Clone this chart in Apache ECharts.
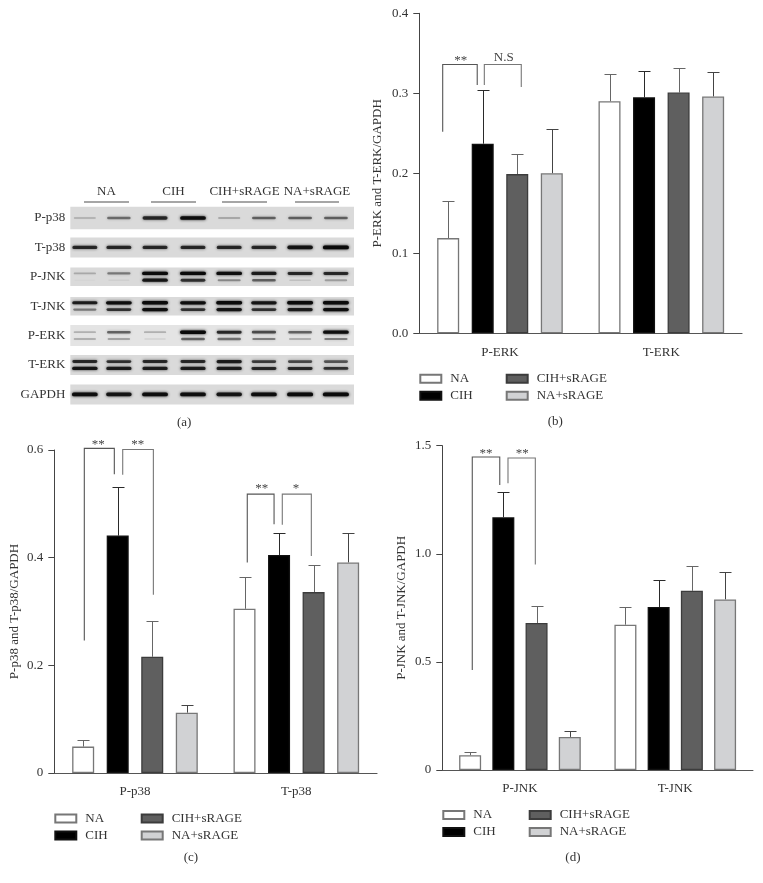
<!DOCTYPE html>
<html><head><meta charset="utf-8"><style>html,body{margin:0;padding:0;background:#fff}#c{width:763px;height:883px}</style>
<script src="https://cdn.jsdelivr.net/npm/echarts@6/dist/echarts.min.js"></script></head>
<body><div id="c"></div><script>
const conditions = ["NA", "CIH", "CIH+sRAGE", "NA+sRAGE"];

// Panel (a) western blot
const blotRows = ["P-p38", "T-p38", "P-JNK", "T-JNK", "P-ERK", "T-ERK", "GAPDH"];
const laneCenters = [0.41, 1.37, 2.39, 3.46, 4.48, 5.46, 6.48, 7.49];
const bandUpper = [
  [0.2, 0.5, 0.8, 0.95, 0.25, 0.55, 0.55, 0.55],
  [0.8, 0.8, 0.8, 0.8, 0.8, 0.8, 0.9, 1],
  [0.25, 0.45, 1, 1, 0.95, 0.85, 0.8, 0.8],
  [0.85, 0.95, 1, 0.95, 1, 0.9, 1, 1],
  [0.25, 0.55, 0.25, 1, 0.8, 0.65, 0.55, 0.95],
  [0.8, 0.75, 0.8, 0.8, 0.85, 0.7, 0.65, 0.6],
  [0.95, 0.9, 0.95, 0.95, 0.9, 0.95, 1, 1]
];
const bandLower = [
  null, null,
  [0.03, 0.06, 0.9, 0.75, 0.4, 0.55, 0.15, 0.3],
  [0.45, 0.75, 0.95, 0.75, 0.9, 0.75, 0.85, 0.95],
  [0.25, 0.3, 0.1, 0.55, 0.5, 0.45, 0.25, 0.45],
  [0.9, 0.85, 0.85, 0.85, 0.85, 0.8, 0.8, 0.75],
  null
];
const laneGroups = ["NA", "CIH", "CIH+sRAGE", "NA+sRAGE"];
const laneGroupSpans = [[0.386, 1.655], [2.276, 3.545], [4.278, 5.547], [6.337, 7.577]];

// Panel (b)
const erkCategories = ["P-ERK", "T-ERK"];
const erkMeans = [[0.119, 0.290], [0.237, 0.295], [0.199, 0.301], [0.200, 0.296]];
const erkTops = [[0.165, 0.324], [0.304, 0.3275], [0.224, 0.332], [0.255, 0.327]];
const erkBrackets = [[0.145, 0.359, 0.336, 0.252, 0.3105], [0.403, 0.632, 0.336, 0.3105, 0.308]];
const erkMarks = [["**", 0.257, 0.341], ["N.S", 0.523, 0.345]];
const erkTicks = [0, 0.1, 0.2, 0.3, 0.4];

// Panel (c)
const p38Categories = ["P-p38", "T-p38"];
const p38Means = [[0.049, 0.305], [0.441, 0.405], [0.216, 0.336], [0.112, 0.391]];
const p38Tops = [[0.062, 0.365], [0.531, 0.445], [0.283, 0.387], [0.126, 0.446]];
const p38Brackets = [
  [0.186, 0.372, 0.603, 0.246, 0.555], [0.424, 0.614, 0.601, 0.554, 0.331],
  [1.196, 1.362, 0.518, 0.391, 0.462], [1.413, 1.593, 0.518, 0.461, 0.403]
];
const p38Marks = [["**", 0.273, 0.611], ["**", 0.517, 0.611], ["**", 1.285, 0.528], ["*", 1.498, 0.528]];
const p38Ticks = [0, 0.2, 0.4, 0.6];

// Panel (d)
const jnkCategories = ["P-JNK", "T-JNK"];
const jnkMeans = [[0.068, 0.672], [1.169, 0.754], [0.680, 0.829], [0.153, 0.789]];
const jnkTops = [[0.085, 0.752], [1.287, 0.877], [0.760, 0.942], [0.182, 0.914]];
const jnkBrackets = [[0.193, 0.37, 1.448, 0.462, 1.318], [0.423, 0.599, 1.443, 1.326, 0.951]];
const jnkMarks = [["**", 0.281, 1.465], ["**", 0.515, 1.465]];
const jnkTicks = [0, 0.5, 1.0, 1.5];

const FONT = '"Liberation Serif", serif';
const TEXT = '#333';
const FS = 13;
const fills = ['#ffffff', '#000000', '#5f5f5f', '#d1d2d4'];
const edges = ['#777777', '#111111', '#3c3c3c', '#777777'];
const errColors = ['#666666', '#2a2a2a', '#666666', '#444444'];

const option = {
  animation: false, backgroundColor: '#fff',
  textStyle: {fontFamily: FONT, color: TEXT, fontSize: FS},
  grid: [], xAxis: [], yAxis: [], series: [], legend: [], graphic: []
};

function panel(cfg) {
  const g = option.grid.length;
  option.grid.push({left: cfg.left, top: cfg.top, width: cfg.width, height: cfg.height, containLabel: false});
  const xCat = option.xAxis.length;
  option.xAxis.push({gridIndex: g, type: 'category', data: cfg.categories,
    axisLine: {lineStyle: {color: '#555', width: 1.2}},
    axisTick: {alignWithLabel: true, length: 6, lineStyle: {color: '#444'}},
    axisLabel: {color: TEXT, fontFamily: FONT, fontSize: FS, margin: 12.5}});
  const xHidden = option.xAxis.length;
  option.xAxis.push({gridIndex: g, type: 'value', min: 0, max: 2, show: false});
  const yi = option.yAxis.length;
  const t = cfg.ticks;
  option.yAxis.push({gridIndex: g, type: 'value', min: t[0], max: t[t.length - 1], interval: t[1] - t[0],
    name: cfg.name, nameLocation: 'middle', nameGap: cfg.nameGap,
    nameTextStyle: {color: TEXT, fontFamily: FONT, fontSize: FS},
    splitLine: {show: false},
    axisLine: {show: true, lineStyle: {color: '#444', width: 1}},
    axisTick: {show: true, length: 6, lineStyle: {color: '#444'}},
    axisLabel: {color: TEXT, fontFamily: FONT, fontSize: FS, margin: 11,
      formatter: v => (v === 0 && !cfg.zeroDecimal) ? '0' : v.toFixed(1)}});

  conditions.forEach((name, i) => {
    option.series.push({type: 'bar', name, xAxisIndex: xCat, yAxisIndex: yi, barWidth: cfg.barWidth,
      barGap: cfg.barGap, data: cfg.means[i], z: 3,
      itemStyle: {color: fills[i], borderColor: edges[i], borderWidth: 1.3}});
  });
  const step = cfg.barWidth * (1 + parseFloat(cfg.barGap) / 100);
  conditions.forEach((name, i) => {
    option.series.push({type: 'custom', xAxisIndex: xCat, yAxisIndex: yi, z: 2, silent: true,
      data: cfg.tops[i].map((top, k) => [k, top, cfg.means[i][k]]),
      encode: {x: 0, y: 1},
      renderItem(params, api) {
        const off = (i - 1.5) * step;
        const hi = api.coord([api.value(0), api.value(1)]);
        const lo = api.coord([api.value(0), api.value(2)]);
        const x = Math.round(hi[0] + off) + 0.5, y = Math.round(hi[1]) + 0.5;
        const st = {stroke: errColors[i], lineWidth: 1, fill: null};
        return {type: 'group', children: [
          {type: 'line', shape: {x1: x, y1: y, x2: x, y2: lo[1]}, style: st},
          {type: 'line', shape: {x1: x - 6, y1: y, x2: x + 6, y2: y}, style: st}
        ]};
      }});
  });
  option.series.push({type: 'custom', xAxisIndex: xHidden, yAxisIndex: yi, z: 5, silent: true, clip: false,
    data: cfg.brackets, encode: {x: 0, y: 2},
    renderItem(params, api) {
      const xl = api.value(0), xr = api.value(1), top = api.value(2), a = api.value(3), b = api.value(4);
      return {type: 'polyline', shape: {points: [api.coord([xl, a]), api.coord([xl, top]), api.coord([xr, top]), api.coord([xr, b])]},
        style: {stroke: params.dataIndex % 2 ? '#777' : '#555', lineWidth: 1.1, fill: null}};
    }});
  option.series.push({type: 'custom', xAxisIndex: xHidden, yAxisIndex: yi, z: 5, silent: true, clip: false,
    data: cfg.marks.map(m => [m[1], m[2]]), encode: {x: 0, y: 1},
    renderItem(params, api) {
      const p = api.coord([api.value(0), api.value(1)]);
      return {type: 'text', x: p[0], y: p[1], style: {text: cfg.marks[params.dataIndex][0], fill: '#444',
        font: FS + 'px ' + FONT, align: 'center', verticalAlign: 'middle'}};
    }});

  const leg = c => ({selectedMode: false, orient: 'vertical', left: c.left, top: cfg.legendTop, padding: 0,
    icon: 'rect', itemWidth: 21, itemHeight: 8, itemGap: 4, data: c.names,
    textStyle: {color: TEXT, fontFamily: FONT, fontSize: FS, lineHeight: 13, padding: [0, 0, 0, 4]}});
  option.legend.push(leg({left: cfg.left, names: conditions.slice(0, 2)}));
  option.legend.push(leg({left: cfg.left + 86.4, names: conditions.slice(2)}));
  option.graphic.push({type: 'text', left: cfg.caption[0] - 7, top: cfg.caption[1] - 6,
    style: {text: cfg.caption[2], fill: TEXT, font: FS + 'px ' + FONT}});
}

// Blot panel
(function () {
  const g = option.grid.length;
  option.grid.push({left: 70.3, top: 203.3, width: 283.7, height: 205.8});
  const xi = option.xAxis.length;
  option.xAxis.push({gridIndex: g, type: 'value', min: 0, max: 8, show: false});
  const yi = option.yAxis.length;
  option.yAxis.push({gridIndex: g, type: 'category', inverse: true, data: blotRows,
    axisLine: {show: false}, axisTick: {show: false}, splitLine: {show: false},
    axisLabel: {color: TEXT, fontFamily: FONT, fontSize: FS, margin: 5}});
  const rowH = [22.6, 20, 18.6, 18.6, 21, 20, 20];
  option.series.push({type: 'custom', xAxisIndex: xi, yAxisIndex: yi, z: 1, silent: true,
    data: blotRows.map((r, i) => [0, i]), encode: {x: 0, y: 1},
    renderItem(params, api) {
      const p0 = api.coord([0, api.value(1)]), p1 = api.coord([8, api.value(1)]);
      const h = rowH[params.dataIndex];
      return {type: 'rect', shape: {x: p0[0], y: p0[1] - h / 2, width: p1[0] - p0[0], height: h},
        style: {fill: params.dataIndex === 4 ? '#e4e4e4' : '#dadada'}};
    }});
  const bands = [];
  blotRows.forEach((r, ri) => {
    const two = !!bandLower[ri];
    bandUpper[ri].forEach((v, li) => bands.push([laneCenters[li], ri, v, two ? -1 : 0]));
    if (two) bandLower[ri].forEach((v, li) => bands.push([laneCenters[li], ri, v, 1]));
  });
  option.series.push({type: 'custom', xAxisIndex: xi, yAxisIndex: yi, z: 2, silent: true,
    data: bands, encode: {x: 0, y: 1},
    renderItem(params, api) {
      const p = api.coord([api.value(0), api.value(1)]);
      const v = api.value(2), pos = api.value(3);
      const w = 21 + 5 * v, h = pos ? 1.3 + 2.1 * v : 1.4 + 2.4 * v;
      const y = p[1] + pos * 3.4;
      const col = 'rgba(10,10,10,' + Math.pow(v, 1.1).toFixed(2) + ')';
      return {type: 'rect', shape: {x: p[0] - w / 2, y: y - h / 2, width: w, height: h, r: h / 2},
        style: {fill: col, shadowBlur: 3, shadowColor: col}};
    }});
  option.series.push({type: 'custom', xAxisIndex: xi, yAxisIndex: yi, z: 3, silent: true, clip: false,
    data: laneGroupSpans.map(s => [s[0], 0, s[1]]), encode: {x: 0, y: 1},
    renderItem(params, api) {
      const a = api.coord([api.value(0), 0]), b = api.coord([api.value(2), 0]);
      const y = a[1] - 16;
      return {type: 'group', children: [
        {type: 'line', shape: {x1: a[0], y1: y, x2: b[0], y2: y}, style: {stroke: '#888', lineWidth: 1.5}},
        {type: 'text', x: (a[0] + b[0]) / 2, y: y - 10, style: {text: laneGroups[params.dataIndex], fill: TEXT,
          font: FS + 'px ' + FONT, align: 'center', verticalAlign: 'middle'}}
      ]};
    }});
  option.graphic.push({type: 'text', left: 177, top: 416, style: {text: '(a)', fill: TEXT, font: FS + 'px ' + FONT}});
})();

panel({left: 419.3, top: 13.3, width: 322.7, height: 320, categories: erkCategories, ticks: erkTicks,
  name: 'P-ERK and T-ERK/GAPDH', nameGap: 35, zeroDecimal: true, means: erkMeans, tops: erkTops,
  brackets: erkBrackets, marks: erkMarks, barWidth: 22, barGap: '57%', legendTop: 372.3, caption: [554.7, 421.3, '(b)']});
panel({left: 54.3, top: 450, width: 322.7, height: 323, categories: p38Categories, ticks: p38Ticks,
  name: 'P-p38 and T-p38/GAPDH', nameGap: 33, zeroDecimal: false, means: p38Means, tops: p38Tops,
  brackets: p38Brackets, marks: p38Marks, barWidth: 22, barGap: '57%', legendTop: 811.9, caption: [190.7, 856.7, '(c)']});
panel({left: 442.3, top: 445.7, width: 310.6, height: 324.3, categories: jnkCategories, ticks: jnkTicks,
  name: 'P-JNK and T-JNK/GAPDH', nameGap: 34.5, zeroDecimal: false, means: jnkMeans, tops: jnkTops,
  brackets: jnkBrackets, marks: jnkMarks, barWidth: 22, barGap: '51%', legendTop: 808.5, caption: [572.3, 856.7, '(d)']});

echarts.init(document.getElementById('c'), null, {renderer: 'canvas'}).setOption(option);
</script></body></html>
